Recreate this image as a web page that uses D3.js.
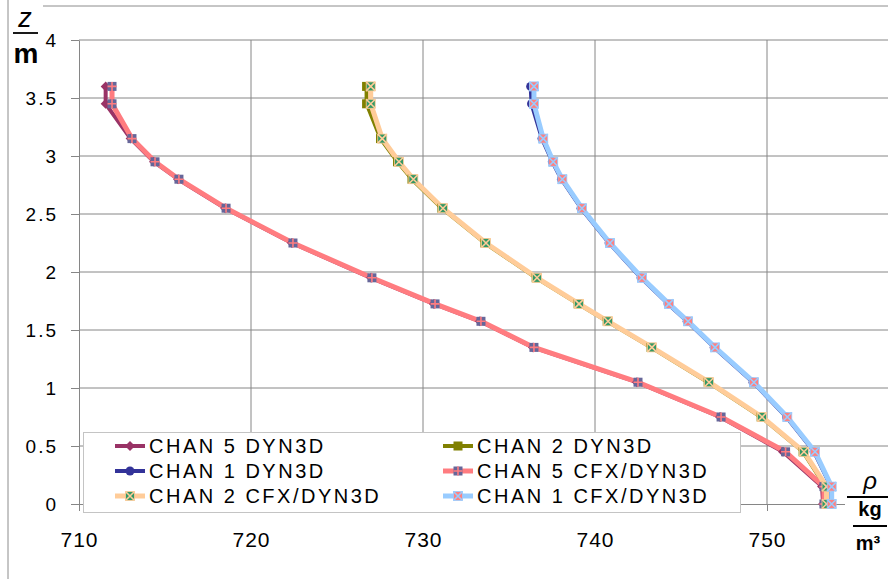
<!DOCTYPE html>
<html>
<head>
<meta charset="utf-8">
<script src="https://cdn.jsdelivr.net/npm/d3@7"></script>
<style>
  body { margin: 0; background: #fff; }
  svg { display: block; font-family: "Liberation Sans", Arial, sans-serif; }
</style>
</head>
<body>
<div id="chart"></div>
<script>
// data
const zLevels = [3.6, 3.45, 3.15, 2.95, 2.8, 2.55, 2.25, 1.95, 1.725, 1.575, 1.35, 1.05, 0.75, 0.45, 0.15, 0];
const chan5Dyn3d = [711.55, 711.55, 713.0, 714.36, 715.76, 718.5, 722.38, 726.98, 730.64, 733.31, 736.4, 742.44, 747.27, 750.93, 753.2, 753.26];
const chan2Dyn3d = [726.72, 726.72, 727.53, 728.52, 729.36, 731.1, 733.6, 736.58, 739.02, 740.71, 743.26, 746.58, 749.66, 752.1, 753.4, 753.45];
const chan1Dyn3d = [736.26, 736.31, 736.92, 737.52, 738.05, 739.19, 740.82, 742.68, 744.25, 745.36, 746.93, 749.19, 751.13, 752.74, 753.72, 753.72];
const chan5Cfx = [711.92, 711.92, 713.08, 714.42, 715.81, 718.55, 722.44, 727.03, 730.7, 733.37, 736.45, 742.5, 747.33, 751.08, 753.31, 753.31];
const chan2Cfx = [726.96, 726.96, 727.63, 728.6, 729.44, 731.16, 733.66, 736.63, 739.07, 740.76, 743.31, 746.63, 749.71, 752.15, 753.46, 753.46];
const chan1Cfx = [736.45, 736.45, 736.99, 737.57, 738.1, 739.24, 740.87, 742.73, 744.3, 745.41, 746.98, 749.24, 751.18, 752.79, 753.76, 753.76];

const seriesNames = ["CHAN 5 DYN3D", "CHAN 2 DYN3D", "CHAN 1 DYN3D", "CHAN 5 CFX/DYN3D", "CHAN 2 CFX/DYN3D", "CHAN 1 CFX/DYN3D"];
const xTicks = [710, 720, 730, 740, 750];
const yTicks = [0, 0.5, 1, 1.5, 2, 2.5, 3, 3.5, 4];

const width = 888, height = 579;

// look of each series (same order as seriesNames)
const styles = [
  { line: "#993366", width: 4, marker: "diamond", fill: "#993366" },
  { line: "#808000", width: 4, marker: "square", fill: "#808000" },
  { line: "#333399", width: 4, marker: "circle", fill: "#333399" },
  { line: "#ff7c80", width: 5, marker: "plus", fill: "#666699", cross: "#ff7c80" },
  { line: "#ffcc99", width: 5, marker: "x", fill: "#339966", cross: "#ffcc99" },
  { line: "#99ccff", width: 5, marker: "x", fill: "#ff8080", cross: "#99ccff" }
];
const values = [chan5Dyn3d, chan2Dyn3d, chan1Dyn3d, chan5Cfx, chan2Cfx, chan1Cfx];
const series = seriesNames.map((name, i) => ({
  name,
  style: styles[i],
  points: zLevels.map((z, j) => ({ z, rho: values[i][j] }))
}));

const svg = d3.select("#chart")
  .append("svg")
  .attr("width", width)
  .attr("height", height);

// scales
const x = d3.scaleLinear().domain([710, 760]).range([79, 939]);
const y = d3.scaleLinear().domain([0, 4]).range([504, 40]);

// outer frame (cropped chart border)
svg.append("line").attr("x1", 8).attr("x2", 8).attr("y1", 0).attr("y2", height)
  .attr("stroke", "#8c8c8c");
svg.append("line").attr("x1", 43).attr("x2", width).attr("y1", 6).attr("y2", 6)
  .attr("stroke", "#8c8c8c");

// gridlines
svg.append("g").selectAll("line")
  .data(yTicks.filter(d => d > 0))
  .enter().append("line")
  .attr("x1", 79).attr("x2", width)
  .attr("y1", d => y(d)).attr("y2", d => y(d))
  .attr("stroke", "#868686");

svg.append("g").selectAll("line")
  .data(xTicks.filter(d => d > 710))
  .enter().append("line")
  .attr("x1", d => x(d)).attr("x2", d => x(d))
  .attr("y1", y(4)).attr("y2", y(0))
  .attr("stroke", "#868686");

// x axis
const xAxis = svg.append("g")
  .attr("transform", `translate(0, ${y(0)})`)
  .call(d3.axisBottom(x).tickValues(xTicks).tickSize(7).tickPadding(21).tickSizeOuter(0));
xAxis.select(".domain").attr("stroke", "#868686");
xAxis.selectAll(".tick line").attr("stroke", "#868686");
xAxis.selectAll("text")
  .attr("font-size", 21)
  .attr("letter-spacing", 1)
  .attr("fill", "#000");

// y axis
const yAxis = svg.append("g")
  .attr("transform", `translate(79, 0)`)
  .call(d3.axisLeft(y).tickValues(yTicks).tickSize(8).tickPadding(13).tickSizeOuter(0)
    .tickFormat(d3.format("")));
yAxis.select(".domain").attr("stroke", "#868686");
yAxis.selectAll(".tick line").attr("stroke", "#868686");
yAxis.selectAll("text")
  .attr("font-size", 19)
  .attr("letter-spacing", 2)
  .attr("fill", "#000");

// markers
const drawMarker = (g, st, cx, cy) => {
  const s = 4.5;
  if (st.marker === "diamond") {
    g.append("path")
      .attr("d", `M${cx},${cy - 5}L${cx + 5},${cy}L${cx},${cy + 5}L${cx - 5},${cy}Z`)
      .attr("fill", st.fill);
  } else if (st.marker === "square") {
    g.append("rect")
      .attr("x", cx - 4.5).attr("y", cy - 4.5).attr("width", 9).attr("height", 9)
      .attr("fill", st.fill);
  } else if (st.marker === "circle") {
    g.append("circle")
      .attr("cx", cx).attr("cy", cy).attr("r", 4.5)
      .attr("fill", st.fill);
  } else {
    g.append("rect")
      .attr("x", cx - s).attr("y", cy - s).attr("width", 2 * s).attr("height", 2 * s)
      .attr("fill", st.fill)
      .attr("stroke", st.marker === "x" ? st.cross : "none")
      .attr("stroke-width", 0.8);
    const d = st.marker === "plus"
      ? `M${cx - s},${cy}L${cx + s},${cy}M${cx},${cy - s}L${cx},${cy + s}`
      : `M${cx - s},${cy - s}L${cx + s},${cy + s}M${cx + s},${cy - s}L${cx - s},${cy + s}`;
    g.append("path")
      .attr("d", d)
      .attr("stroke", st.cross)
      .attr("stroke-width", 1.6)
      .attr("fill", "none");
  }
};

// series lines and markers
const lineGen = d3.line()
  .x(d => x(d.rho))
  .y(d => y(d.z));

const plot = svg.append("g");
series.forEach(s => {
  plot.append("path")
    .datum(s.points)
    .attr("d", lineGen)
    .attr("fill", "none")
    .attr("stroke", s.style.line)
    .attr("stroke-width", s.style.width)
    .attr("stroke-linejoin", "round")
    .attr("stroke-linecap", "round");
});
series.forEach(s => {
  const g = plot.append("g");
  s.points.forEach(p => drawMarker(g, s.style, x(p.rho), y(p.z)));
});

// legend
const legend = svg.append("g");
legend.append("rect")
  .attr("x", 83.5).attr("y", 432.5)
  .attr("width", 657).attr("height", 80)
  .attr("fill", "#fff")
  .attr("stroke", "#c4c4c4");

const legendCols = [115, 443];
const legendRows = [446, 471, 496];
series.forEach((s, i) => {
  const lx = legendCols[i % 2];
  const ly = legendRows[Math.floor(i / 2)];
  const row = legend.append("g");
  row.append("line")
    .attr("x1", lx).attr("x2", lx + 30)
    .attr("y1", ly).attr("y2", ly)
    .attr("stroke", s.style.line)
    .attr("stroke-width", s.style.width);
  drawMarker(row, s.style, lx + 15, ly);
  row.append("text")
    .attr("x", lx + 34)
    .attr("y", ly + 7)
    .attr("font-size", 20)
    .attr("letter-spacing", 2.5)
    .text(s.name);
});

// y axis title: z / m
const yTitle = svg.append("g");
yTitle.append("rect").attr("x", 9).attr("y", 0).attr("width", 34).attr("height", 68).attr("fill", "#fff");
yTitle.append("text")
  .attr("x", 25).attr("y", 27)
  .attr("text-anchor", "middle")
  .attr("font-size", 27)
  .attr("font-style", "italic")
  .text("z");
yTitle.append("line")
  .attr("x1", 13).attr("x2", 38).attr("y1", 33).attr("y2", 33)
  .attr("stroke", "#000").attr("stroke-width", 1.8);
yTitle.append("text")
  .attr("x", 26).attr("y", 63)
  .attr("text-anchor", "middle")
  .attr("font-size", 28)
  .attr("font-weight", "bold")
  .text("m");

// x axis title: rho / (kg / m3)
const xTitle = svg.append("g");
xTitle.append("rect").attr("x", 845).attr("y", 470).attr("width", 43).attr("height", 86).attr("fill", "#fff");
xTitle.append("text")
  .attr("x", 870).attr("y", 489)
  .attr("text-anchor", "middle")
  .attr("font-size", 24)
  .attr("font-style", "italic")
  .text("ρ");
xTitle.append("line")
  .attr("x1", 847).attr("x2", 888).attr("y1", 497).attr("y2", 497)
  .attr("stroke", "#000").attr("stroke-width", 1.8);
xTitle.append("text")
  .attr("x", 870).attr("y", 516)
  .attr("text-anchor", "middle")
  .attr("font-size", 20)
  .attr("font-weight", "bold")
  .text("kg");
xTitle.append("line")
  .attr("x1", 853).attr("x2", 887).attr("y1", 526).attr("y2", 526)
  .attr("stroke", "#000").attr("stroke-width", 1.8);
xTitle.append("text")
  .attr("x", 868).attr("y", 550)
  .attr("text-anchor", "middle")
  .attr("font-size", 20)
  .attr("font-weight", "bold")
  .text("m³");
</script>
</body>
</html>
